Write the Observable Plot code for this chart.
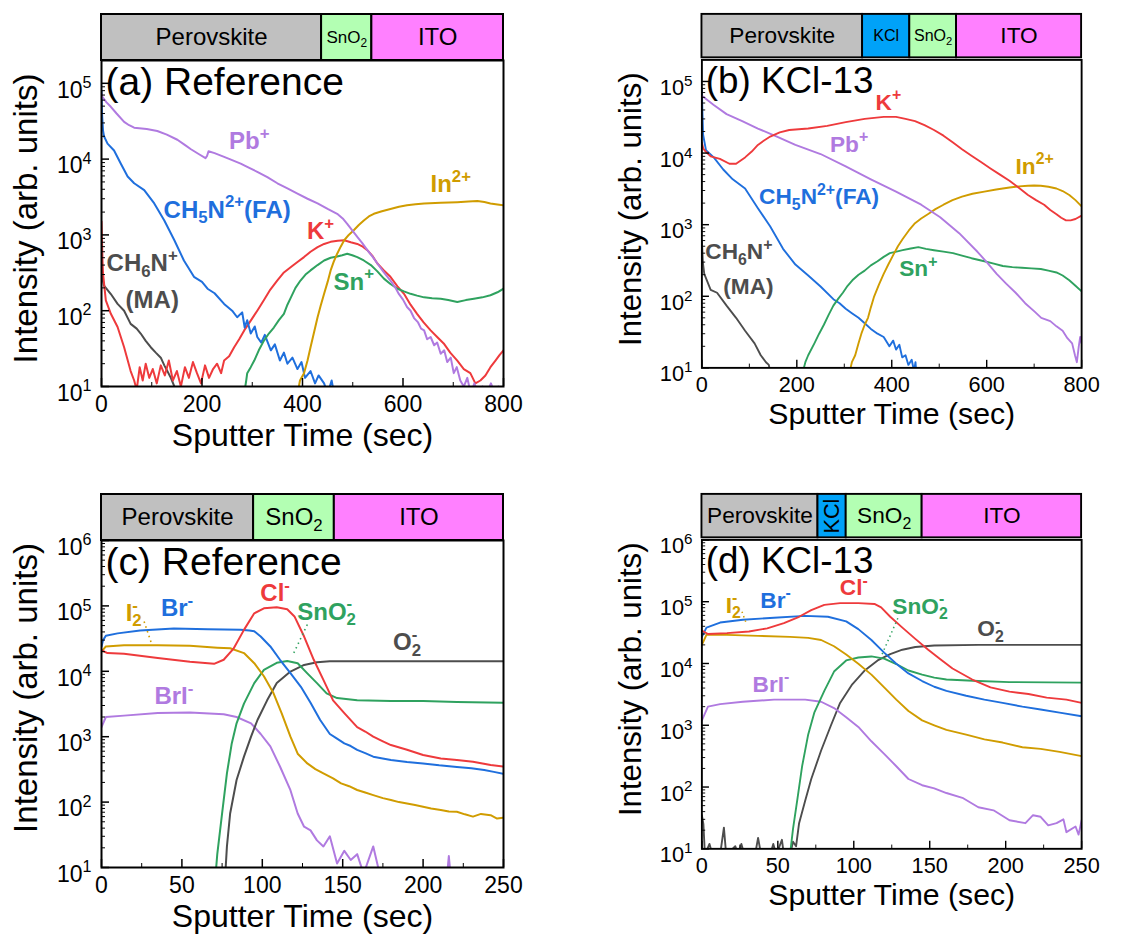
<!DOCTYPE html>
<html><head><meta charset="utf-8">
<script src="https://cdn.jsdelivr.net/npm/d3@7"></script>
<script src="https://cdn.jsdelivr.net/npm/@observablehq/plot@0.6"></script>
<style>
html,body{margin:0;padding:0;background:#fff;}
#root{position:relative;width:1135px;height:937px;overflow:hidden;}
.pane{position:absolute;}
</style></head><body><div id="root"></div>
<script>
// ---------------- DATA (time in s, intensity) ----------------
// Panel (a) Reference, positive ions
const a_Pb = [[0,7.2e4],[2,6.6e4],[10,5.6e4],[18.6,4.9e4],[30,4.0e4],[45,3.1e4],[55,2.8e4],[65,2.6e4],[90,2.5e4],[111,2.35e4],[130,2.1e4],[151,1.8e4],[165,1.55e4],[178,1.35e4],[195,1.15e4],[207,1.03e4],[210,1.1e4],[213,1.27e4],[225,1.2e4],[244,1.07e4],[260,9.7e3],[277,8.7e3],[293,7.7e3],[310,6.8e3],[330,5.8e3],[350,4.8e3],[370,4.1e3],[390,3.5e3],[410,3.0e3],[430,2.6e3],[450,2.2e3],[469,1.9e3],[480,1.65e3],[489,1.4e3],[499,1.15e3],[509,940],[519,780],[529,630],[539,520],[549,420],[562,320],[575,250],[585,200],[592,165],[600,140],[608,112],[615,100],[622,80],[630,70],[636,58],[642,55],[648,42],[655,45],[662,35],[668,38],[675,27],[682,30],[688,21],[695,24],[701,15],[707,18],[714,12],[721,10],[728,13],[735,8],[742,11],[750,8],[758,10],[766,8],[775,11],[783,8],[790,10],[796,8],[800,8]];
const a_FA = [[0,8e4],[1,4e4],[3,2.4e4],[5,2e4],[12,1.6e4],[25,1.3e4],[38,8.8e3],[52,5.9e3],[65,4.8e3],[85,3.9e3],[105,2.6e3],[125,1.55e3],[145,850],[164,460],[184,280],[200,240],[211,195],[225,170],[244,123],[260,100],[270,82],[280,95],[285,60],[290,75],[297,50],[305,62],[310,45],[318,38],[325,48],[337,30],[345,36],[355,22],[363,28],[370,20],[380,24],[390,17],[398,21],[405,13],[416,16],[425,11],[432,14],[443,11],[450,8],[458,12],[463,8]];
const a_MA = [[0,400],[2,260],[5,215],[18.6,166],[32,123],[45,100],[58,67],[70,58],[78,50],[88,40],[98,33],[108,28],[118,24],[125,19],[131,16],[138,13],[145,10],[150,8]];
const a_K = [[0,1.5e3],[2,450],[3,310],[8.6,137],[18.6,91],[32,61],[45,33],[58,16],[65,12],[70,9],[76,18],[82,12],[88,20],[95,13],[102,17],[110,11],[118,19],[126,14],[134,22],[142,12],[150,16],[158,10],[166,18],[174,13],[182,21],[190,15],[198,11],[206,19],[214,13],[222,17],[230,20],[238,15],[244,22],[254,25],[264,33],[274,42],[284,55],[297,74],[310,100],[323,137],[336,190],[350,251],[363,320],[377,378],[390,440],[403,510],[416,600],[430,690],[443,760],[456,810],[470,840],[483,850],[496,800],[509,760],[520,700],[529,630],[540,520],[549,420],[562,340],[575,280],[589,210],[602,167],[615,120],[628,91],[641,70],[655,55],[668,45],[681,37],[694,28],[708,22],[721,17],[734,15],[744,11],[754,12],[764,14],[774,18],[784,22],[792,26],[800,30]];
const a_Sn = [[284,8],[288,12],[290,15],[297,18],[304,22],[313,30],[323,40],[333,50],[343,60],[353,75],[363,91],[370,120],[377,150],[386,200],[396,250],[406,300],[416,340],[430,400],[443,460],[456,500],[469,520],[479,540],[489,565],[499,540],[509,510],[522,460],[536,400],[549,330],[562,265],[575,225],[589,195],[602,180],[615,167],[628,158],[642,150],[658,146],[675,144],[690,138],[708,130],[725,138],[741,144],[758,150],[774,160],[788,175],[800,195]];
const a_In = [[390,8],[395,12],[403,15],[410,22],[416,33],[423,52],[430,82],[436,115],[443,167],[450,240],[456,340],[462,440],[469,565],[476,700],[483,850],[492,1000],[502,1150],[512,1350],[522,1550],[532,1750],[542,1900],[558,2050],[575,2200],[592,2350],[608,2460],[625,2530],[642,2600],[675,2650],[708,2700],[730,2750],[748,2800],[762,2720],[774,2600],[788,2520],[800,2450]];

// Panel (b) KCl-13, positive ions
const b_K = [[0,1.4e4],[3,1.15e4],[8,1.05e4],[18.5,9e3],[38,8.3e3],[58,7.1e3],[72,7.1e3],[91,8.7e3],[105,1.05e4],[118,1.3e4],[131,1.5e4],[144,1.7e4],[164,1.95e4],[184,2.1e4],[224,2.2e4],[264,2.4e4],[303,2.7e4],[343,3.0e4],[383,3.2e4],[409,3.2e4],[429,3.0e4],[449,2.8e4],[469,2.45e4],[489,2.1e4],[509,1.75e4],[529,1.4e4],[548,1.13e4],[568,9.2e3],[588,7.5e3],[608,6.1e3],[628,5e3],[648,4.1e3],[667,3.3e3],[687,2.6e3],[704,2.2e3],[721,1.9e3],[734,1.6e3],[747,1.4e3],[757,1.25e3],[767,1.15e3],[777,1.15e3],[787,1.2e3],[800,1.34e3]];
const b_Pb = [[0,6.3e4],[25,4.7e4],[52,3.5e4],[85,2.8e4],[118,2.2e4],[158,1.7e4],[197,1.3e4],[250,9.7e3],[303,6.5e3],[356,4.3e3],[409,2.9e3],[462,1.9e3],[502,1.27e3],[542,760],[581,415],[600,300],[621,205],[641,150],[661,112],[681,80],[701,61],[715,50],[734,45],[747,38],[760,33],[770,26],[780,22],[786,15],[790,12],[794,20],[797,27],[800,22]];
const b_FA = [[0,8e4],[1,4e4],[2.6,1.8e4],[8.6,1.1e4],[25,8.7e3],[45,5.9e3],[65,4.3e3],[91,3.2e3],[118,1.7e3],[144,940],[171,460],[197,277],[224,195],[250,137],[277,91],[290,80],[303,67],[316,58],[330,50],[343,42],[356,35],[370,30],[383,27],[395,20],[403,24],[409,18],[416,21],[422,14],[429,15],[435,11],[442,13],[447,9],[450,12],[452,8]];
const b_MA = [[0,600],[2,300],[5,205],[18.5,123],[32,112],[52,74],[72,50],[91,33],[111,22],[124,15],[135,12],[141,11],[145,8]];
const b_Sn = [[211,8],[218,12],[224,15],[237,22],[247,30],[257,40],[267,55],[277,74],[287,92],[297,112],[307,140],[317,167],[330,200],[343,228],[356,270],[370,308],[383,355],[396,400],[410,420],[423,440],[440,465],[456,485],[472,460],[489,440],[509,420],[529,400],[548,370],[568,340],[595,308],[615,285],[634,265],[654,255],[674,250],[694,245],[714,240],[730,228],[747,215],[760,195],[774,167],[787,140],[800,117]];
const b_In = [[310,8],[316,12],[323,15],[330,22],[336,30],[343,40],[350,50],[356,70],[363,100],[373,145],[383,205],[393,280],[403,375],[413,500],[423,630],[436,830],[449,1050],[462,1220],[476,1400],[492,1650],[509,1900],[528,2200],[548,2460],[570,2700],[595,2900],[620,3100],[648,3300],[668,3420],[687,3500],[700,3520],[714,3500],[730,3380],[747,3200],[760,2950],[774,2600],[787,2200],[800,1800]];

// Panel (c) Reference, negative ions (0-250 s)
const c_Br = [[0,2.4e4],[1,3.0e4],[2.7,3.5e4],[10,3.8e4],[24,4.2e4],[45,4.5e4],[66,4.4e4],[86.5,4.3e4],[92,4.2e4],[95,4.1e4],[99,3.4e4],[105,2.4e4],[111,1.5e4],[117.5,9.4e3],[124,5.8e3],[130,3.3e3],[136,1.8e3],[142,1.1e3],[146,950],[151,790],[155,720],[159,630],[164,560],[169,495],[174,470],[180,440],[190,410],[200,390],[210,365],[221,345],[230,330],[238,310],[244,290],[250,270]];
const c_I2 = [[0,2.0e4],[2.7,2.4e4],[14,2.5e4],[35,2.5e4],[55,2.45e4],[72,2.3e4],[80,2.25e4],[88.6,1.9e4],[95,1.33e4],[101,8.4e3],[107,4.6e3],[112,2.3e3],[117.5,1.0e3],[122,550],[128,390],[133,320],[138,275],[144,230],[149,193],[154,175],[159,153],[164,140],[169,128],[175,115],[180,108],[185,100],[190,95],[195,90],[200,85],[205,80],[211,76],[216,72],[221,71],[226,65],[231,60],[236,66],[242,63],[246,56],[250,58]];
const c_Cl = [[0,2.1e4],[3.7,1.9e4],[14,1.85e4],[35,1.6e4],[55,1.4e4],[70,1.3e4],[76,1.5e4],[82,2.2e4],[88.6,4.3e4],[95,7.7e4],[101,9.2e4],[109,9.5e4],[115.5,8.9e4],[120,6.9e4],[126,3.4e4],[132,1.5e4],[138,7.4e3],[144,3.6e3],[151,2.3e3],[159,1.4e3],[164,1.2e3],[169,1.0e3],[175,850],[180,745],[190,630],[200,525],[211,465],[221,440],[231,415],[242,370],[250,348]];
const c_SnO2 = [[71,8],[72,16],[75,67],[78,275],[81,790],[84,1.6e3],[88.6,3.2e3],[95,6.6e3],[101,1.05e4],[109,1.35e4],[115.5,1.44e4],[122,1.33e4],[128,9.3e3],[134,6.6e3],[140,4.6e3],[146.5,3.9e3],[159,3.6e3],[180,3.5e3],[200,3.5e3],[221,3.4e3],[250,3.3e3]];
const c_O2 = [[77,8],[78,21],[80,67],[84,218],[88.6,495],[93,1.0e3],[97,1.8e3],[103,3.6e3],[109,6.6e3],[117.5,9.9e3],[126,1.25e4],[134,1.38e4],[142,1.42e4],[159,1.42e4],[200,1.42e4],[250,1.42e4]];
const c_BrI = [[0,1.4e3],[2.7,2.0e3],[14,2.1e3],[35,2.3e3],[55,2.35e3],[76,2.2e3],[84,2.0e3],[93,1.6e3],[99,1.1e3],[105,710],[111,350],[117.5,152],[122,67],[126,42],[130,37],[134,26],[138,21],[142,30],[146.5,11.5],[151,18],[155,13],[159,16],[163,8],[169,21],[173,8],[215,8],[216,15],[217,8],[250,8]];

// Panel (d) KCl-13, negative ions (0-250 s)
const d_Br = [[0,2.7e4],[3,3.8e4],[12,4.6e4],[27,5.1e4],[47.5,5.5e4],[68,5.9e4],[83,5.7e4],[95,4.8e4],[103,3.6e4],[111.6,2.4e4],[120,1.5e4],[128,9.9e3],[136,6.9e3],[145,5.2e3],[153,4.2e3],[161,3.6e3],[174,3.0e3],[186,2.6e3],[198,2.3e3],[211,2.0e3],[223,1.8e3],[235.5,1.6e3],[250,1.4e3]];
const d_Cl = [[0,3.4e4],[4,3.0e4],[16.5,3.1e4],[31,3.3e4],[43,3.7e4],[54,4.5e4],[64,5.7e4],[72,7.3e4],[80.6,8.9e4],[91,9.5e4],[103,9.5e4],[113.6,9.2e4],[118,8.1e4],[124,5.7e4],[132,3.8e4],[140.5,2.5e4],[149,1.67e4],[157,1.17e4],[165,8.3e3],[178,5.5e3],[190,4.1e3],[202.5,3.5e3],[215,3.2e3],[227,2.8e3],[240,2.6e3],[250,2.3e3]];
const d_I2 = [[0,2.0e4],[3,2.9e4],[16.5,2.9e4],[37,2.8e4],[58,2.7e4],[70,2.6e4],[78.5,2.4e4],[87,1.9e4],[95,1.4e4],[103,9.9e3],[111.6,6.6e3],[120,4.1e3],[128,2.6e3],[136,1.7e3],[145,1.2e3],[153,1.0e3],[161,840],[174,705],[186,590],[198,525],[211,440],[223,415],[235.5,370],[250,316]];
const d_BrI = [[0,1.2e3],[4,2.0e3],[12,2.2e3],[27,2.4e3],[47.5,2.6e3],[68,2.6e3],[78.5,2.4e3],[87,1.9e3],[95,1.35e3],[103,940],[111.6,550],[120,345],[128,217],[136,135],[145,107],[153,95],[161,80],[171.5,67],[182,47],[192,42],[202.5,29],[213,26],[218,35],[223,33],[228,24],[233.5,26],[238,30],[240,18.6],[246,23],[248,17],[250,29]];
const d_SnO2 = [[58,8],[60,21],[63,67],[66,218],[70,710],[74,1.6e3],[80.6,3.6e3],[87,7.4e3],[95,1.12e4],[103,1.25e4],[111.6,1.3e4],[120,1.2e4],[128,9.8e3],[136,7.7e3],[145,6.6e3],[153,5.9e3],[161,5.5e3],[182,5.2e3],[202.5,5.0e3],[250,4.9e3]];
const d_O2 = [[0,35],[1,25],[2,8],[5,12],[7,8],[12,8],[14.5,22],[16,8],[22,11],[24,8],[26,12],[28,8],[35,8],[37,15],[39,8],[45,8],[47,12],[49,8],[52.7,14],[54,8],[58,8],[60,13],[62,11],[64,26],[68,60],[72,135],[78.5,390],[85,1.0e3],[91,2.3e3],[99,4.6e3],[107.4,7.8e3],[115.7,1.12e4],[124,1.42e4],[132,1.67e4],[140.5,1.85e4],[153,1.95e4],[182,2.0e4],[223,2.0e4],[250,2.0e4]];

// Layer stacks [name, start, end] (s)
const a_layers = [["Perovskite",0,438],["SnO_{2}",438,538],["ITO",538,800]];
const b_layers = [["Perovskite",0,338.5],["KCl",338.5,438],["SnO_{2}",438,536.5],["ITO",536.5,800]];
const c_layers = [["Perovskite",0,94.6],["SnO_{2}",94.6,144.8],["ITO",144.8,250]];
const d_layers = [["Perovskite",0,76.4],["KCl",76.4,95],["SnO_{2}",95,145],["ITO",145,250]];

// Curve labels [text, time, intensity]
const a_labels = [["Pb^{+}",294,1.7e4],["CH_{5}N^{2+}(FA)",250,2.14e3],["K^{+}",436,1.1e3],["In^{2+}",695,4.6e3],["Sn^{+}",502,240],["CH_{6}N^{+}",81,417],["(MA)",101,138]];
const b_labels = [["K^{+}",393,5.1e4],["Pb^{+}",310,1.32e4],["In^{2+}",701,6.5e3],["CH_{5}N^{2+}(FA)",247,2.45e3],["Sn^{+}",456,240],["CH_{6}N^{+}",78,417],["(MA)",98,138]];
const c_labels = [["I_{2}^{-}",20,7.8e4],["Br^{-}",47,9.1e4],["Cl^{-}",108,1.55e5],["SnO_{2}^{-}",140,8.1e4],["O_{2}^{-}",190,2.8e4],["BrI^{-}",45,4.1e3]];
const d_labels = [["I_{2}^{-}",20.7,8.7e4],["Br^{-}",48.5,1.05e5],["Cl^{-}",100,1.66e5],["SnO_{2}^{-}",143.6,8.3e4],["O_{2}^{-}",190,3.6e4],["BrI^{-}",45.5,4.6e3]];
// dotted leader lines [ion, t1, v1, t2, v2]
const c_leaders = [["I2",26.5,5.75e4,31,2.7e4],["SnO2",128,5.2e4,119,1.78e4]];
const d_leaders = [["I2",26.4,6.9e4,29,4.6e4],["SnO2",129,5.4e4,118,1.3e4]];

const xTicksTop = [0,200,400,600,800], xMinorTop = [100,300,500,700];
const xTicksBot = [0,50,100,150,200,250], xMinorBot = [25,75,125,175,225];
const yTicksTop = [1e1,1e2,1e3,1e4,1e5], yTicksBot = [1e1,1e2,1e3,1e4,1e5,1e6];

// ---------------- STYLE ----------------
const FONT = '"Liberation Sans", Arial, Helvetica, sans-serif';
const C = {red:"#ee3a3c", blue:"#1f6fdd", green:"#2fa25f", purple:"#b07ae0", gold:"#d09c00", gray:"#4d4d4d"};
const ionColor = {"Pb^{+}":C.purple,"CH_{5}N^{2+}(FA)":C.blue,"K^{+}":C.red,"In^{2+}":C.gold,"Sn^{+}":C.green,"CH_{6}N^{+}":C.gray,"(MA)":C.gray,
  "I_{2}^{-}":C.gold,"Br^{-}":C.blue,"Cl^{-}":C.red,"SnO_{2}^{-}":C.green,"O_{2}^{-}":C.gray,"BrI^{-}":C.purple, "I2":C.gold, "SnO2":C.green};
const layerFill = {"Perovskite":"#c0c0c0","KCl":"#00a2f8","SnO_{2}":"#b3ffb3","ITO":"#ff80ff"};
const W = 560, ML = 101, MR = 57, MT = 10, MB = 70;

function markup(svg){
  const ns = "http://www.w3.org/2000/svg";
  svg.querySelectorAll("text").forEach(t => {
    const s = t.textContent;
    if (!/[\^_]\{/.test(s)) return;
    const segs = []; const re = /([\^_])\{([^}]*)\}|([^\^_]+)/g; let m;
    while ((m = re.exec(s))) segs.push(m[3] != null ? {mode:"n", text:m[3]} : {mode: m[1] === "^" ? "sup" : "sub", text:m[2]});
    while (t.firstChild) t.removeChild(t.firstChild);
    let cur = 0, prev = null;
    for (const sg of segs) {
      const ts = document.createElementNS(ns, "tspan");
      const f = sg.mode === "n" ? 1 : 0.7;
      const target = sg.mode === "sup" ? -0.42 : sg.mode === "sub" ? 0.24 : 0;
      if (sg.mode !== "n") ts.setAttribute("font-size", "70%");
      const dy = (target - cur) / f;
      if (Math.abs(dy) > 1e-6) ts.setAttribute("dy", dy.toFixed(3) + "em");
      if (sg.mode === "sup" && prev && prev.mode === "sub") ts.setAttribute("dx", (-0.556 * prev.text.length).toFixed(3) + "em");
      cur = target; ts.textContent = sg.text; t.appendChild(ts); prev = sg;
    }
  });
}

function mainPlot(cfg){
  const plotH = cfg.plotH, plotW = W - ML - MR;
  const yMinor = [];
  for (let e = 1; e < 7; e++) for (let k = 2; k <= 9; k++) { const v = k * 10 ** e; if (v < cfg.yDomain[1]) yMinor.push(v); }
  const marks = [
    ...cfg.series.map(([data, color]) => Plot.line(data, {x: d => d[0], y: d => d[1], stroke: color, strokeWidth: 2, clip: true})),
    Plot.link(cfg.leaders || [], {x1: d => d[1], y1: d => d[2], x2: d => d[3], y2: d => d[4], stroke: d => ionColor[d[0]], strokeWidth: 1.6, strokeDasharray: "1.5,3.5"}),
    Plot.ruleY(cfg.yTicks, {y: d => d, insetRight: plotW - 8, strokeWidth: 1.5}),
    Plot.ruleY(yMinor, {y: d => d, insetRight: plotW - 4, strokeWidth: 1}),
    Plot.ruleX(cfg.xTicks, {x: d => d, insetTop: plotH - 8, strokeWidth: 1.5}),
    Plot.ruleX(cfg.xMinor, {x: d => d, insetTop: plotH - 4, strokeWidth: 1}),
    Plot.frame({stroke: "black", strokeWidth: 2}),
    Plot.axisX(cfg.xTicks, {tickSize: 0, tickPadding: 9, fontSize: 23, label: null}),
    Plot.axisY(cfg.yTicks, {tickSize: 0, tickPadding: 10, fontSize: 23, dy: 7, label: null, tickFormat: d => `10^{${Math.round(Math.log10(d))}}`}),
    Plot.text(cfg.labels, {x: d => d[1], y: d => d[2], text: d => d[0], fill: d => ionColor[d[0]], fontWeight: "bold", fontSize: 24}),
    Plot.text([cfg.title], {frameAnchor: "top-left", text: d => d, dx: 4, dy: 7, lineAnchor: "top", fontSize: 39}),
    Plot.text(["Sputter Time (sec)"], {frameAnchor: "bottom", text: d => d, lineAnchor: "top", dy: 37, fontSize: 32}),
    Plot.text(["Intensity (arb. units)"], {frameAnchor: "left", textAnchor: "middle", lineAnchor: "middle", text: d => d, rotate: -90, dx: -75, dy: cfg.ytDy, fontSize: 33})
  ];
  const svg = Plot.plot({
    width: W, height: MT + plotH + MB, marginLeft: ML, marginRight: MR, marginTop: MT, marginBottom: MB,
    x: {domain: cfg.xDomain}, y: {type: "log", domain: cfg.yDomain},
    style: {fontFamily: FONT, background: "transparent", overflow: "visible", color: "black"},
    marks
  });
  markup(svg);
  return svg;
}

function barPlot(layers, xDomain, small){
  const svg = Plot.plot({
    width: W, height: 50, marginLeft: ML, marginRight: MR, marginTop: 2, marginBottom: 2,
    x: {domain: xDomain, axis: null},
    style: {fontFamily: FONT, background: "transparent", overflow: "visible", color: "black"},
    marks: [
      Plot.rect(layers, {x1: d => d[1], x2: d => d[2], fill: d => layerFill[d[0]], stroke: "black", strokeWidth: 2}),
      Plot.text(layers.filter(d => !(small.rot && d[0] === "KCl")), {x: d => (d[1] + d[2]) / 2, text: d => d[0], frameAnchor: "middle", fill: "black",
        fontSize: d => (small.names.includes(d[0]) ? 17 : 24)}),
      Plot.text(layers.filter(d => small.rot && d[0] === "KCl"), {x: d => (d[1] + d[2]) / 2, text: d => d[0], frameAnchor: "middle", rotate: -90, fill: "black", fontSize: 23})
    ]
  });
  markup(svg);
  return svg;
}

const root = document.getElementById("root");
function place(node, left, top){ const d = document.createElement("div"); d.className = "pane"; d.style.left = left + "px"; d.style.top = top + "px"; d.appendChild(node); root.appendChild(d); }

const topCfg = {xDomain: [0, 800], yDomain: [10, 2e5], xTicks: xTicksTop, xMinor: xMinorTop, yTicks: yTicksTop, plotH: 326, ytDy: -5};
const botCfg = {xDomain: [0, 250], yDomain: [10, 1e6], xTicks: xTicksBot, xMinor: xMinorBot, yTicks: yTicksBot, plotH: 327, ytDy: -16};

place(barPlot(a_layers, [0, 800], {names: ["SnO_{2}"], rot: false}), 0, 12);
place(barPlot(b_layers, [0, 800], {names: ["SnO_{2}", "KCl"], rot: false}), 606, 12);
place(barPlot(c_layers, [0, 250], {names: [], rot: false}), 0, 492);
place(barPlot(d_layers, [0, 250], {names: [], rot: true}), 606, 492);

place(mainPlot({...topCfg, title: "(a) Reference", labels: a_labels,
  series: [[a_MA, C.gray], [a_K, C.red], [a_FA, C.blue], [a_Sn, C.green], [a_In, C.gold], [a_Pb, C.purple]]}), 0, 60 - MT);
place(mainPlot({...topCfg, title: "(b) KCl-13", labels: b_labels,
  series: [[b_MA, C.gray], [b_FA, C.blue], [b_Sn, C.green], [b_In, C.gold], [b_Pb, C.purple], [b_K, C.red]]}), 606, 60 - MT);
place(mainPlot({...botCfg, title: "(c) Reference", labels: c_labels, leaders: c_leaders,
  series: [[c_BrI, C.purple], [c_O2, C.gray], [c_SnO2, C.green], [c_I2, C.gold], [c_Br, C.blue], [c_Cl, C.red]]}), 0, 540 - MT);
place(mainPlot({...botCfg, title: "(d) KCl-13", labels: d_labels, leaders: d_leaders,
  series: [[d_O2, C.gray], [d_BrI, C.purple], [d_SnO2, C.green], [d_I2, C.gold], [d_Br, C.blue], [d_Cl, C.red]]}), 606, 540 - MT);
</script></body></html>
